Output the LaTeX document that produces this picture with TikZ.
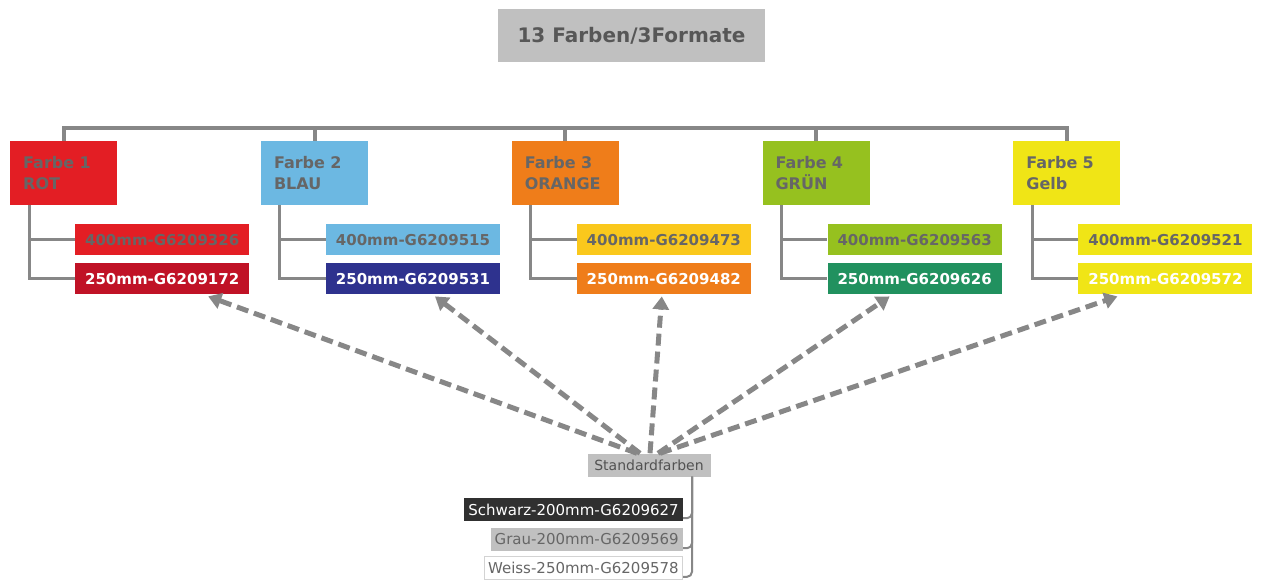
\documentclass[tikz,border=0pt]{standalone}
\usepackage{fontspec}
\setmainfont{DejaVu Sans}
\usetikzlibrary{arrows.meta,calc}

\definecolor{rot}{RGB}{227,30,36}
\definecolor{rotdunkel}{RGB}{192,18,38}
\definecolor{blau}{RGB}{108,184,226}
\definecolor{navy}{RGB}{46,50,142}
\definecolor{orange}{RGB}{239,125,26}
\definecolor{gelborange}{RGB}{250,200,28}
\definecolor{gruen}{RGB}{150,193,31}
\definecolor{gruendunkel}{RGB}{33,145,95}
\definecolor{gelb}{RGB}{240,229,22}
\definecolor{txtgrau}{RGB}{102,102,102}
\definecolor{liniengrau}{RGB}{135,135,135}
\definecolor{kastengrau}{RGB}{192,192,192}
\definecolor{schwarz}{RGB}{48,48,48}

\tikzset{
  kopf/.style={anchor=north west, minimum width=107pt, minimum height=64pt,
    inner xsep=13pt, inner ysep=0pt, text width=81pt, align=left,
    text=txtgrau, font=\bfseries\fontsize{16pt}{21pt}\selectfont},
  format/.style={anchor=north west, minimum width=174pt, minimum height=31pt,
    inner sep=0pt, font=\bfseries\fontsize{15pt}{18pt}\selectfont},
  baum/.style={draw=liniengrau, line width=3pt},
  pfeil/.style={draw=liniengrau, line width=5pt, dash pattern=on 12pt off 6pt,
    -{Triangle[length=13pt,width=16pt]}},
  standard/.style={anchor=east, minimum height=23pt, inner xsep=4pt, inner ysep=0pt,
    font=\fontsize{15pt}{18pt}\selectfont}
}

\begin{document}
\begin{tikzpicture}[x=1pt, y=-1pt]
  \useasboundingbox (0,0) rectangle (1263,580);

  \node [fill=kastengrau, text=txtgrau!85!black, minimum width=267pt, minimum height=53pt,
    font=\bfseries\fontsize{20pt}{24pt}\selectfont] (titel) at (631.5,35.5) {13 Farben/3Formate};

  % Farben mit je zwei Formaten
  \foreach \i/\fc/\nm/\ac/\acode/\bc/\bcode/\btxt in {
      1/rot/ROT/rot/326/rotdunkel/172/white,
      2/blau/BLAU/blau/515/navy/531/white,
      3/orange/ORANGE/gelborange/473/orange/482/white,
      4/gruen/GRÜN/gruen/563/gruendunkel/626/white,
      5/gelb/Gelb/gelb/521/gelb/572/white} {
    \node [kopf, fill=\fc] (h\i) at ({10+250.8*(\i-1)},141) {Farbe \i\\\nm};
    \node [format, fill=\ac, text=txtgrau] (a\i) at ({75+250.8*(\i-1)},224) {400mm-G6209\acode};
    \node [format, fill=\bc, text=\btxt] (b\i) at ({75+250.8*(\i-1)},263) {250mm-G6209\bcode};
    \draw [baum] ([xshift=19pt]h\i.south west) |- (a\i.west);
    \draw [baum] ([xshift=19pt]h\i.south west) |- (b\i.west);
  }

  \coordinate (bus) at (0,128);
  \draw [baum, line width=4pt] (h1.north) |- (bus -| h5.north) -- (h5.north);
  \foreach \i in {2,3,4}
    \draw [baum, line width=4pt] (h\i.north) -- (h\i.north |- bus);

  % Standardfarben
  \node [fill=kastengrau, text=txtgrau!80!black, minimum width=123pt, minimum height=23pt,
    inner sep=0pt, font=\fontsize{14pt}{17pt}\selectfont] (std) at (649,465) {Standardfarben};

  \node [standard, fill=schwarz, text=white] (sw) at (683,509.5) {Schwarz-200mm-G6209627};
  \node [standard, fill=kastengrau, text=txtgrau] (gr) at (683,539.5) {Grau-200mm-G6209569};
  \node [standard, fill=white, draw=kastengrau!70, line width=0.6pt, text=txtgrau] (ws) at (683,568) {Weiss-250mm-G6209578};

  \coordinate (stdfuss) at ([xshift=43pt]std.south);
  \foreach \n in {sw,gr,ws}
    \draw [baum, line width=2pt, rounded corners=5pt] (stdfuss) |- ([yshift=3pt]\n.south east);

  \foreach \i/\s/\e in {1/-12/46, 2/-9/22, 3/1/-2, 4/9/-25, 5/11/-48}
    \draw [pfeil] ([xshift=\s pt]std.north) -- ([xshift=\e pt, yshift=-2pt]b\i.south);
\end{tikzpicture}
\end{document}
